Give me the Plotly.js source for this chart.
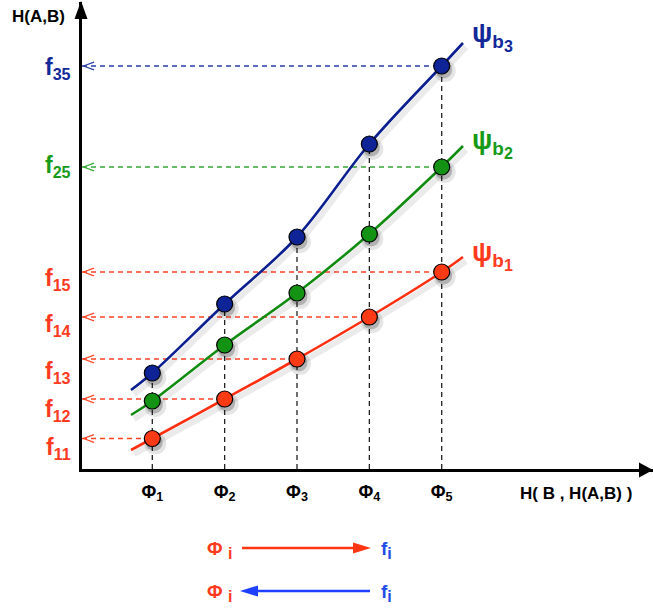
<!DOCTYPE html>
<html><head><meta charset="utf-8">
<script src="https://cdn.plot.ly/plotly-3.0.1.min.js"></script>
<style>html,body{margin:0;padding:0;background:#fff}#chart{width:653px;height:608px}</style>
</head><body><div id="chart"></div>
<script>
// ---------------- data ----------------
const phi = [1, 2, 3, 4, 5];
const phiLabels = ['Φ<sub>1</sub>', 'Φ<sub>2</sub>', 'Φ<sub>3</sub>', 'Φ<sub>4</sub>', 'Φ<sub>5</sub>'];
const psiB1 = [30.5, 70, 110, 152, 197];
const psiB2 = [68, 124, 176, 235, 302];
const psiB3 = [96, 165, 232, 325, 403];
const curveStartX = 0.706, curveEndX = 5.294;
const psiB1Ends = [19, 212];
const psiB2Ends = [54, 323];
const psiB3Ends = [79, 426];
const seriesKeys = ['b1', 'b2', 'b3'];
const fNames = ['11', '12', '13', '14', '15', '25', '35'];
const fSeries = ['b1', 'b1', 'b1', 'b1', 'b1', 'b2', 'b3'];
const fPhi = [1, 2, 3, 4, 5, 5, 5];
const xTitle = 'H( B , H(A,B) )';
const yTitle = 'H(A,B)';

// ---------------- styles ----------------
const FONT = 'Liberation Sans, Arial, sans-serif';
const W = 653, H = 608, ML = 82, MR = 0, MT = 2, MB = 139;
const PW = W - ML - MR, PH = H - MT - MB;
const xRange = [0.0283, 7.9205], yRange = [0, 467];
const unitX = (xRange[1] - xRange[0]) / PW; // data per px
const col = {
  b1: {line: '#ff2f12', fill: '#ff3a14', dash: '#ff4326', text: '#ff3b1f'},
  b2: {line: '#118c11', fill: '#139213', dash: '#34a834', text: '#169a18'},
  b3: {line: '#0b1f90', fill: '#0d2396', dash: '#2a3ca6', text: '#13299a'}
};
const series = {b1: psiB1, b2: psiB2, b3: psiB3};
const ends = {b1: psiB1Ends, b2: psiB2Ends, b3: psiB3Ends};
const fShift = [-9.5, -11.5, -13, -8, -7.5, 1, -2.5];
const psiShift = [2, 3, 7];

const px = p => (p - ML) / PW;
const py = p => (H - MB - p) / PH;

const traces = [];
// vertical dashed guides
phi.forEach((p, i) => {
  const top = Math.max(psiB1[i], psiB2[i], psiB3[i]);
  traces.push({x: [p, p], y: [0, top], mode: 'lines', hoverinfo: 'skip',
    line: {color: '#222', width: 1.3, dash: '5px,4px'}});
});
// horizontal dashed guides with open arrowheads at the axis
fNames.forEach((n, k) => {
  const s = fSeries[k], i = fPhi[k] - 1, v = series[s][i];
  traces.push({x: [xRange[0], phi[i]], y: [v, v], mode: 'lines', hoverinfo: 'skip',
    line: {color: col[s].dash, width: 1.3, dash: '5px,4px'}});
  const tip = xRange[0] + 1.5 * unitX, arm = xRange[0] + 12 * unitX;
  traces.push({x: [arm, tip, arm], y: [v + 3.8, v, v - 3.8], mode: 'lines', hoverinfo: 'skip',
    line: {color: col[s].dash, width: 1.3}});
});
// curve shadows
seriesKeys.forEach(s => {
  traces.push({x: [curveStartX, ...phi, curveEndX].map(v => v + 3 * unitX),
    y: [ends[s][0], ...series[s], ends[s][1]].map(v => v - 4),
    mode: 'lines', hoverinfo: 'skip', line: {color: 'rgba(0,0,0,0.08)', width: 6, shape: 'spline', smoothing: 1}});
});
// curves
seriesKeys.forEach(s => {
  traces.push({x: [curveStartX, ...phi, curveEndX], y: [ends[s][0], ...series[s], ends[s][1]],
    mode: 'lines', hoverinfo: 'skip', line: {color: col[s].line, width: 2.6, shape: 'spline', smoothing: 1}});
});
// marker shadows
seriesKeys.forEach(s => {
  traces.push({x: phi.map(v => v + 3 * unitX), y: series[s].map(v => v - 5), mode: 'markers', hoverinfo: 'skip',
    marker: {size: 22, color: 'rgba(0,0,0,0.10)'}});
  traces.push({x: phi.map(v => v + 2 * unitX), y: series[s].map(v => v - 4), mode: 'markers', hoverinfo: 'skip',
    marker: {size: 17, color: 'rgba(0,0,0,0.22)'}});
});
// markers
seriesKeys.forEach(s => {
  traces.push({x: phi, y: series[s], mode: 'markers', name: 'ψ' + s, cliponaxis: false,
    marker: {size: 16, color: col[s].fill, line: {color: '#000', width: 1.2}}});
});

const annotations = [];
// y "tick" labels
fNames.forEach((n, k) => {
  const s = fSeries[k], v = series[s][fPhi[k] - 1];
  annotations.push({xref: 'paper', yref: 'y', x: 0, y: v, xanchor: 'right', yanchor: 'middle',
    xshift: -9, yshift: fShift[k], showarrow: false,
    text: '<b>f<sub>' + n + '</sub></b>', font: {family: FONT, size: 23, color: col[s].text}});
});
// psi labels
seriesKeys.forEach((s, j) => {
  annotations.push({xref: 'x', yref: 'y', x: curveEndX, y: ends[s][1], xanchor: 'left', yanchor: 'middle',
    xshift: 7, yshift: psiShift[j], showarrow: false,
    text: '<b>ψ<sub>b<sub><span style="font-size:16px">' + (j + 1) + '</span></sub></sub></b>',
    font: {family: FONT, size: 27, color: col[s].text}});
});
// axis titles
annotations.push({xref: 'paper', yref: 'paper', x: px(38), y: py(16), xanchor: 'center', yanchor: 'middle',
  showarrow: false, text: '<b>' + yTitle + '</b>', font: {family: FONT, size: 17, color: '#000'}});
annotations.push({xref: 'paper', yref: 'paper', x: px(576), y: py(493), xanchor: 'center', yanchor: 'middle',
  showarrow: false, text: '<b>' + xTitle + '</b>', font: {family: FONT, size: 17, color: '#000'}});
// bottom legend labels
[548, 591].forEach(yy => {
  annotations.push({xref: 'paper', yref: 'paper', x: px(205), y: py(yy + 2), xanchor: 'left', yanchor: 'middle',
    showarrow: false, text: '<b>Φ <sub><span style="font-size:16px">i</span></sub></b>',
    font: {family: FONT, size: 19, color: '#ff3b1f'}});
  annotations.push({xref: 'paper', yref: 'paper', x: px(379), y: py(yy + 2), xanchor: 'left', yanchor: 'middle',
    showarrow: false, text: '<b>f<sub><span style="font-size:16px">i</span></sub></b>',
    font: {family: FONT, size: 19, color: '#1f4de6'}});
});

const pathPx = pts => 'M' + pts.map(p => px(p[0]) + ',' + py(p[1])).join(' L') + ' Z';
const shapes = [
  // axis arrowheads
  {type: 'path', xref: 'paper', yref: 'paper', path: pathPx([[74.5, 19], [81, 1], [87.5, 19]]),
    fillcolor: '#000', line: {width: 0}},
  {type: 'path', xref: 'paper', yref: 'paper', path: pathPx([[639, 462.5], [653, 470], [639, 477.5]]),
    fillcolor: '#000', line: {width: 0}},
  // legend arrows
  {type: 'line', xref: 'paper', yref: 'paper', x0: px(242), y0: py(548), x1: px(356), y1: py(548),
    line: {color: '#ff3614', width: 2.6}},
  {type: 'path', xref: 'paper', yref: 'paper', path: pathPx([[353, 542.5], [371, 548], [353, 553.5]]),
    fillcolor: '#ff3614', line: {width: 0}},
  {type: 'line', xref: 'paper', yref: 'paper', x0: px(256), y0: py(591), x1: px(370), y1: py(591),
    line: {color: '#1f40ff', width: 2.6}},
  {type: 'path', xref: 'paper', yref: 'paper', path: pathPx([[258, 585.5], [240, 591], [258, 596.5]]),
    fillcolor: '#1f40ff', line: {width: 0}}
];

const layout = {
  width: W, height: H, margin: {l: ML, r: MR, t: MT, b: MB, pad: 0},
  paper_bgcolor: '#fff', plot_bgcolor: '#fff', showlegend: false,
  xaxis: {range: xRange, showline: true, linewidth: 3, linecolor: '#000', showgrid: false, zeroline: false,
    tickvals: phi, ticktext: phiLabels, ticks: '', ticklabelstandoff: 4,
    tickfont: {family: FONT, size: 18, color: '#000', weight: 'bold'}, fixedrange: true},
  yaxis: {range: yRange, showline: true, linewidth: 3, linecolor: '#000', showgrid: false, zeroline: false,
    showticklabels: false, ticks: '', fixedrange: true},
  annotations: annotations, shapes: shapes
};
Plotly.newPlot('chart', traces, layout, {displayModeBar: false, staticPlot: true});
</script></body></html>
